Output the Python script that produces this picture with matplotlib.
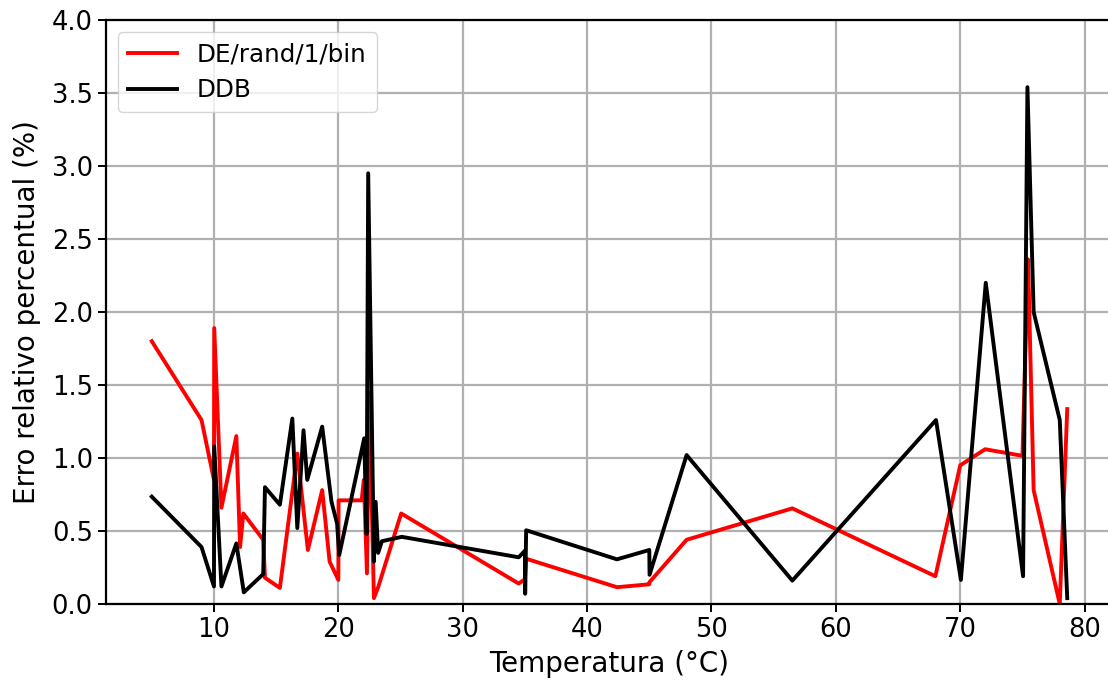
import matplotlib
matplotlib.use("Agg")
import matplotlib.pyplot as plt

# DE/rand/1/bin series
temp_de = [5.0, 9.0, 10.0, 10.02, 10.6, 11.8, 12.1, 12.36, 13.96, 14.1, 15.3, 16.7, 17.55,
           18.7, 19.3, 20.0, 20.02, 21.87, 22.05, 22.3, 22.48, 22.86, 23.2, 25.05,
           34.5, 35.0, 35.1, 42.4, 45.0, 45.02, 48.0, 56.5, 68.0, 70.0, 72.0, 75.0,
           75.45, 75.9, 78.0, 78.6]
erro_de = [1.80, 1.26, 0.85, 1.89, 0.66, 1.15, 0.39, 0.62, 0.44, 0.18, 0.11, 1.03, 0.37,
           0.78, 0.29, 0.165, 0.71, 0.71, 0.85, 0.21, 1.45, 0.04, 0.115, 0.62,
           0.14, 0.17, 0.31, 0.115, 0.135, 0.15, 0.44, 0.655, 0.19, 0.95, 1.06, 1.015,
           2.36, 0.78, 0.0, 1.335]

# DDB series
temp_ddb = [5.0, 9.0, 10.0, 10.02, 10.6, 11.8, 12.4, 13.96, 14.1, 15.3, 16.3, 16.7, 17.2,
            17.5, 18.7, 19.45, 19.9, 20.07, 22.08, 22.27, 22.4, 22.86, 23.0, 23.2, 23.5,
            25.1, 34.5, 35.0, 35.02, 35.1, 42.4, 45.0, 45.02, 48.0, 56.5, 68.05, 70.05,
            72.05, 75.05, 75.4, 75.9, 78.0, 78.6]
erro_ddb = [0.735, 0.39, 0.12, 1.08, 0.12, 0.415, 0.08, 0.205, 0.80, 0.68, 1.27, 0.52, 1.19,
            0.85, 1.215, 0.70, 0.55, 0.335, 1.135, 0.48, 2.95, 0.29, 0.70, 0.35, 0.43,
            0.46, 0.32, 0.365, 0.07, 0.505, 0.306, 0.37, 0.20, 1.02, 0.16, 1.26, 0.165,
            2.20, 0.19, 3.54, 2.0, 1.26, 0.04]

fig = plt.figure(figsize=(11.08, 6.86), dpi=100)
ax = fig.add_axes([106/1108, 82/686, (1113-106)/1108, 584/686])

ax.plot(temp_de, erro_de, color="red", lw=2.8, label="DE/rand/1/bin")
ax.plot(temp_ddb, erro_ddb, color="black", lw=2.8, label="DDB")

ax.set_ylim(0, 4.0)
ax.set_yticks([0.0, 0.5, 1.0, 1.5, 2.0, 2.5, 3.0, 3.5, 4.0])
ax.set_xticks([10, 20, 30, 40, 50, 60, 70, 80])
ax.grid(True, color="#b0b0b0", lw=1.6)
ax.set_axisbelow(True)
for s in ax.spines.values():
    s.set_linewidth(1.6)
ax.tick_params(labelsize=18.5, width=1.4, length=6)
ax.set_xlabel("Temperatura (°C)", fontsize=20, labelpad=5)
ax.set_ylabel("Erro relativo percentual (%)", fontsize=20, labelpad=8)
ax.legend(loc="upper left", fontsize=17.7, handlelength=2.0, framealpha=0.8,
          borderaxespad=0.5)

fig.savefig("out.png", dpi=100)
